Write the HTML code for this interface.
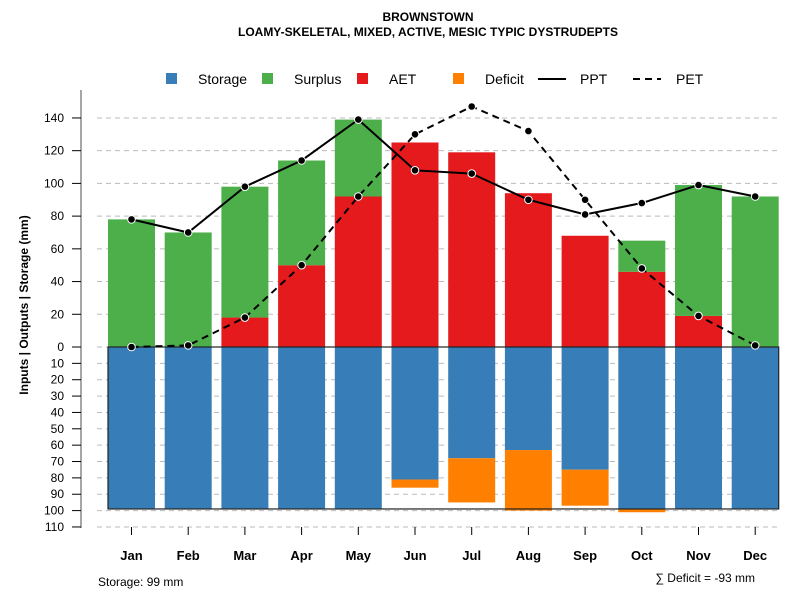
<!DOCTYPE html>
<html><head><meta charset="utf-8"><style>body{margin:0;background:#fff}svg{font-family:"Liberation Sans",sans-serif}</style></head>
<body>
<svg id="c" width="800" height="600" xmlns="http://www.w3.org/2000/svg">
<text x="428" y="21" text-anchor="middle" font-size="12" font-weight="bold">BROWNSTOWN</text>
<text x="428" y="36" text-anchor="middle" font-size="12" font-weight="bold">LOAMY-SKELETAL, MIXED, ACTIVE, MESIC TYPIC DYSTRUDEPTS</text>
<text transform="translate(28,305) rotate(-90)" text-anchor="middle" font-size="12" font-weight="bold">Inputs | Outputs | Storage    (mm)</text>
<g id="legend" font-size="14">
<rect x="166" y="73" width="11" height="11" fill="#377eb8"/><text x="198" y="84">Storage</text>
<rect x="262" y="73" width="11" height="11" fill="#4daf4a"/><text x="294" y="84">Surplus</text>
<rect x="357" y="73" width="11" height="11" fill="#e41a1c"/><text x="389" y="84">AET</text>
<rect x="453" y="73" width="11" height="11" fill="#ff7f00"/><text x="485" y="84">Deficit</text>
<line x1="538" y1="79" x2="566" y2="79" stroke="#000" stroke-width="2"/><text x="580" y="84">PPT</text>
<line x1="633" y1="79" x2="661" y2="79" stroke="#000" stroke-width="2" stroke-dasharray="7,5"/><text x="676" y="84">PET</text>
</g>
<text x="98" y="586" font-size="12">Storage: 99 mm</text>
<text x="755" y="582" text-anchor="end" font-size="12">∑ Deficit = -93 mm</text>
</svg>
<script>
const months=["Jan","Feb","Mar","Apr","May","Jun","Jul","Aug","Sep","Oct","Nov","Dec"];
const ppt=[78,70,98,114,139,108,106,90,81,88,99,92];
const pet=[0,1,18,50,92,130,147,132,90,48,19,1];
const aet=[0,0,18,50,92,125,119,94,68,46,19,0];
const surplus=[78,70,80,64,47,0,0,0,0,19,80,92];
const storage=[99,99,99,99,99,81,68,63,75,99,99,99];
const deficit=[0,0,0,0,0,5,27,37,22,2,0,0];
const posTicks=[0,20,40,60,80,100,120,140];
const negTicks=[10,20,30,40,50,60,70,80,90,100,110];
const maxStorage=99;
const NS="http://www.w3.org/2000/svg";
const svg=document.getElementById('c');
const y=v=>347-v*1.636;
const xc=i=>131.5+i*56.7;
const bw=47;
function mk(t,a,p){const e=document.createElementNS(NS,t);for(const k in a)e.setAttribute(k,a[k]);(p||svg).appendChild(e);return e;}
// grid
posTicks.concat(negTicks.map(v=>-v)).forEach(v=>{
 const g=mk('line',{x1:97,x2:780,y1:y(v),y2:y(v),stroke:'#bbb','stroke-dasharray':'5,4'});
 
 
});
// axis
const ax=mk('line',{x1:81,x2:81,y1:90,y2:528,stroke:'#888','stroke-width':1.5});


posTicks.forEach(v=>{
 const t=mk('line',{x1:72,x2:81,y1:y(v),y2:y(v),stroke:'#000'});
 
 
 const l=mk('text',{x:64,y:y(v)+4,'text-anchor':'end','font-size':12});l.textContent=v;
 
 
});
negTicks.forEach(v=>{
 const t=mk('line',{x1:72,x2:81,y1:y(-v),y2:y(-v),stroke:'#000'});
 
 
 const l=mk('text',{x:64,y:y(-v)+4,'text-anchor':'end','font-size':12});l.textContent=v;
 
 
});
months.forEach((m,i)=>{
 const x0=xc(i)-bw/2;
 const a=mk('rect',{x:x0,y:y(aet[i]),width:bw,height:aet[i]*1.636,fill:'#e41a1c'});
 
 
 const s=mk('rect',{x:x0,y:y(aet[i]+surplus[i]),width:bw,height:surplus[i]*1.636,fill:'#4daf4a'});
 
 
 const st=mk('rect',{x:x0,y:347,width:bw,height:storage[i]*1.636,fill:'#377eb8'});
 
 
 const d=mk('rect',{x:x0,y:y(-storage[i]),width:bw,height:deficit[i]*1.636,fill:'#ff7f00'});
 
 
 const t=mk('line',{x1:xc(i),x2:xc(i),y1:527,y2:535,stroke:'#000'});
 
 
 const l=mk('text',{x:xc(i),y:560,'text-anchor':'middle','font-size':13,'font-weight':'bold'});l.textContent=m;
 
 
});
const fr=mk('rect',{x:xc(0)-bw/2,y:347,width:xc(11)-xc(0)+bw,height:maxStorage*1.636,fill:'none',stroke:'#222','stroke-width':1.2});


function series(vals,name,dash){
 const p=mk('polyline',{points:vals.map((v,i)=>xc(i)+','+y(v)).join(' '),fill:'none',stroke:'#000','stroke-width':2,'stroke-dasharray':dash||'none'});
 
 
 vals.forEach((v,i)=>{
  const c=mk('circle',{cx:xc(i),cy:y(v),r:3.8,fill:'#000',stroke:'#fff','stroke-width':1});
  
  
 });
}
series(pet,'pet','7,5');
series(ppt,'ppt');
</script>
</body></html>
